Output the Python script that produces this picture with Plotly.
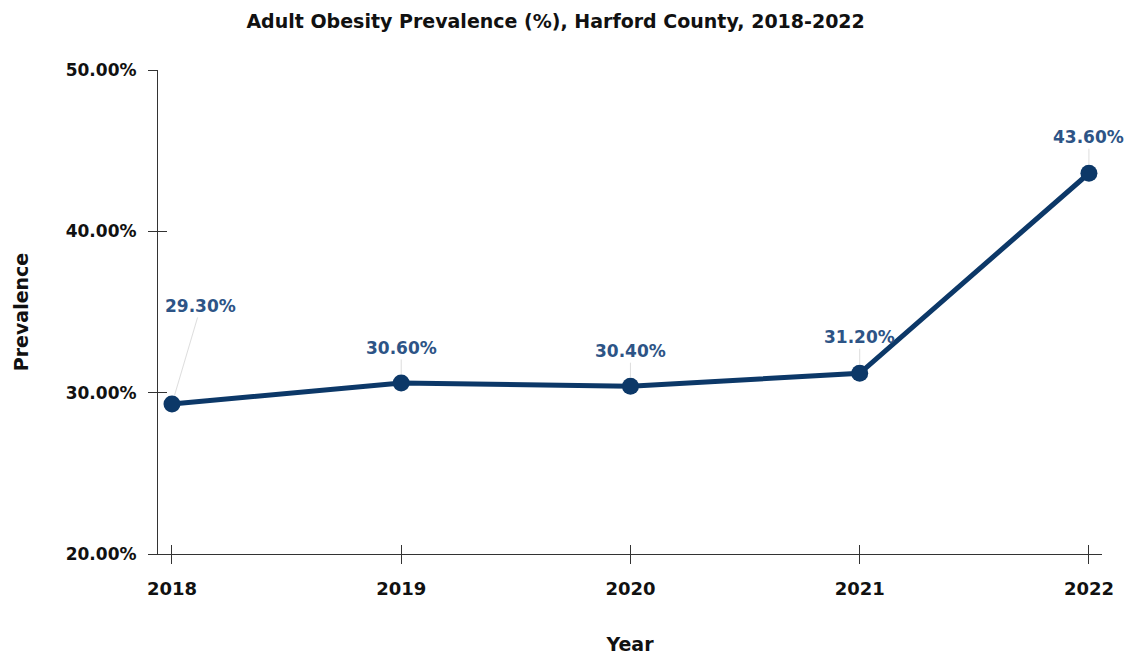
import plotly.graph_objects as go

# Adult obesity prevalence, Harford County
years = [2018, 2019, 2020, 2021, 2022]
prevalence = [29.3, 30.6, 30.4, 31.2, 43.6]
y_ticks = [20, 30, 40, 50]
y_tick_text = ["20.00%", "30.00%", "40.00%", "50.00%"]

# label offsets (pixels) relative to each point
label_dx = [29, 0, 0, 0, 0]
label_dy = [-98, -35, -35, -36, -36]

LINE = "#0c3868"
LABEL = "#2d5486"
FONT = "DejaVu Sans, Liberation Sans, sans-serif"

fig = go.Figure()
fig.add_trace(go.Scatter(
    x=years, y=prevalence, mode="lines+markers",
    line=dict(color=LINE, width=5),
    marker=dict(color=LINE, size=17),
    showlegend=False, hoverinfo="x+y",
))
# invisible trace on the overlay axes so the inner half of each tick is drawn
fig.add_trace(go.Scatter(
    x=years, y=prevalence, xaxis="x2", yaxis="y2", mode="markers",
    marker=dict(opacity=0), showlegend=False, hoverinfo="skip",
))

for x, y, dx, dy in zip(years, prevalence, label_dx, label_dy):
    fig.add_annotation(
        x=x, y=y, text=f"<b>{y:.2f}%</b>", showarrow=True,
        ax=dx, ay=dy, arrowhead=0, arrowwidth=1, arrowcolor="rgba(200,200,200,0.6)",
        standoff=9, font=dict(family=FONT, size=17, color=LABEL),
        bgcolor="rgba(255,255,255,0)",
    )

xr = [2017.939, 2022.057]
yr = [20, 50]
tick_style = dict(showgrid=False, zeroline=False, tickcolor="#333", tickwidth=1.2,
                  automargin=False)

fig.update_layout(
    width=1127, height=655,
    margin=dict(l=158, r=25, t=70, b=101),
    paper_bgcolor="white", plot_bgcolor="white",
    font=dict(family=FONT, color="#111"),
    title=dict(text="<b>Adult Obesity Prevalence (%), Harford County, 2018-2022</b>",
               x=0.493, xanchor="center", y=0.967, yanchor="middle",
               font=dict(size=19, color="#111")),
    xaxis=dict(range=xr, tickmode="array", tickvals=years,
               ticktext=[f"<b>{y}</b>" for y in years],
               ticks="outside", ticklen=9, ticklabelstandoff=9,
               tickfont=dict(size=18, color="#111"),
               showline=True, linecolor="#333", linewidth=1.2,
               title=dict(text="<b>Year</b>", font=dict(size=19, color="#111"), standoff=43),
               **tick_style),
    yaxis=dict(range=yr, tickmode="array", tickvals=y_ticks,
               ticktext=[f"<b>{t}</b>" for t in y_tick_text],
               ticks="outside", ticklen=9, ticklabelstandoff=8,
               tickfont=dict(size=17, color="#111"),
               showline=True, linecolor="#333", linewidth=1.2,
               title=dict(text="<b>Prevalence</b>", font=dict(size=19, color="#111"), standoff=32),
               **tick_style),
    xaxis2=dict(range=xr, overlaying="x", tickmode="array", tickvals=years,
                ticks="inside", ticklen=9, showticklabels=False, showline=False,
                **tick_style),
    yaxis2=dict(range=yr, overlaying="y", tickmode="array", tickvals=y_ticks,
                ticks="inside", ticklen=9, showticklabels=False, showline=False,
                **tick_style),
)

fig.write_html("out.html")
